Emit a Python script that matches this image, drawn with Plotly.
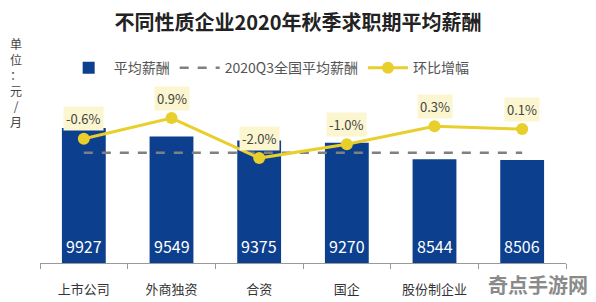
import plotly.graph_objects as go

categories = ["上市公司", "外商独资", "合资", "国企", "股份制企业", "民营企业"]
salary = [9927, 9549, 9375, 9270, 8544, 8506]
growth = [-0.6, 0.9, -2.0, -1.0, 0.3, 0.1]
national_avg = 8829
title = "不同性质企业2020年秋季求职期平均薪酬"
watermark = "奇点手游网"

font_cjk = "Noto Sans CJK SC, Noto Sans, sans-serif"
blue = "#0c3f8e"
yellow = "#e8cf2c"
y_range = [3928, 11395]

fig = go.Figure()
fig.add_trace(go.Bar(
    x=categories, y=salary, name="平均薪酬",
    marker=dict(color=blue, line=dict(width=0)),
    width=0.5,
))
fig.add_trace(go.Scatter(
    x=categories, y=[national_avg] * len(categories),
    name="2020Q3全国平均薪酬", mode="lines",
    line=dict(color="#808080", width=2.5, dash="dash"),
))
fig.add_trace(go.Scatter(
    x=categories, y=growth, name="环比增幅", yaxis="y2",
    mode="lines+markers",
    line=dict(color=yellow, width=3),
    marker=dict(color=yellow, size=12),
))

for c, v in zip(categories, salary):
    fig.add_annotation(
        x=c, y=y_range[0], text=str(v), showarrow=False,
        yanchor="middle", yshift=17,
        font=dict(size=16, color="white", family=font_cjk),
    )

for c, g in zip(categories, growth):
    fig.add_annotation(
        x=c, y=g, yref="y2", text=f"{g:.1f}%", showarrow=False,
        yshift=20, bgcolor="#fbf6cf", borderpad=2,
        font=dict(size=13, color="#444", family=font_cjk),
    )

fig.add_annotation(
    xref="paper", yref="paper", x=-0.045, y=1.37,
    text="单<br>位<br>：<br>元<br>/<br>月", showarrow=False,
    xanchor="center", yanchor="top", align="center",
    font=dict(size=12, color="#444", family=font_cjk),
)

fig.add_annotation(
    xref="paper", yref="paper", x=1.045, y=-0.13,
    text=f"<b>{watermark}</b>", showarrow=False,
    xanchor="right", yanchor="middle",
    font=dict(size=20, color="#8a8a8a", family=font_cjk),
)

fig.update_layout(
    width=596, height=302,
    margin=dict(l=40, r=30, t=95, b=39),
    paper_bgcolor="white", plot_bgcolor="white",
    title=dict(text=f"<b>{title}</b>", x=0.5, xanchor="center", y=0.925,
               yanchor="middle",
               font=dict(size=20, color="#222", family=font_cjk)),
    showlegend=True,
    legend=dict(orientation="h", x=0.045, y=1.16, xanchor="left",
                yanchor="middle", font=dict(size=14, color="#555", family=font_cjk),
                itemwidth=40),
    xaxis=dict(showline=True, linecolor="#999", linewidth=1,
               ticks="outside", tickson="boundaries", ticklen=5, tickcolor="#999",
               tickvals=categories, ticktext=categories[:-1] + [""],
               ticklabelstandoff=14, automargin=False,
               tickfont=dict(size=13, color="#333", family=font_cjk)),
    yaxis=dict(range=y_range, visible=False, showgrid=False),
    yaxis2=dict(range=[-9.6, 2.57], overlaying="y", visible=False, showgrid=False),
    bargap=0.5,
)

fig.write_html("out.html")
